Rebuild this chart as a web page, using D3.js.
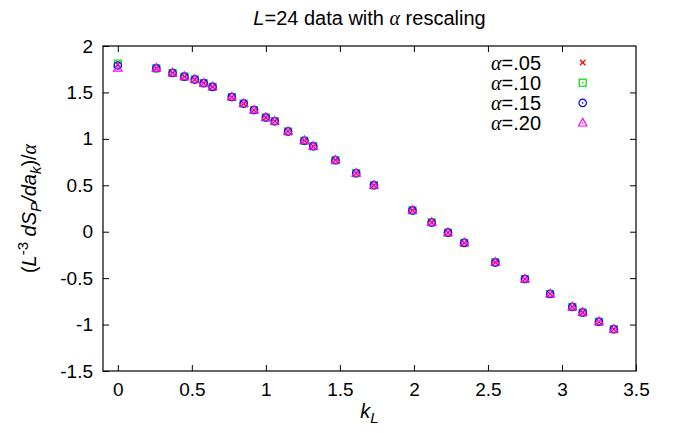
<!DOCTYPE html>
<html>
<head>
<meta charset="utf-8">
<script src="https://cdn.jsdelivr.net/npm/d3@7"></script>
<style>
  body { margin: 0; background: #fff; }
  text { font-family: "Liberation Sans", Arial, sans-serif; }
</style>
</head>
<body>
<div id="chart"></div>
<script>

// k_L values (shared by all four alpha sets)
var kL = [0, 0.26, 0.37, 0.45, 0.52, 0.58, 0.64, 0.77, 0.85, 0.92, 1.00, 1.06, 1.15, 1.26, 1.32,
          1.47, 1.61, 1.73, 1.99, 2.12, 2.23, 2.34, 2.55, 2.75, 2.92, 3.07, 3.14, 3.25, 3.35]

var alpha05 = [1.80, 1.76, 1.71, 1.67, 1.64, 1.60, 1.56, 1.45, 1.38, 1.31, 1.23, 1.19, 1.08, 0.98, 0.92,
               0.77, 0.63, 0.50, 0.23, 0.10, -0.01, -0.12, -0.33, -0.51, -0.67, -0.81, -0.87, -0.97, -1.05]
var alpha10 = [1.81, 1.76, 1.71, 1.67, 1.64, 1.60, 1.56, 1.45, 1.38, 1.31, 1.23, 1.19, 1.08, 0.98, 0.92,
               0.77, 0.63, 0.50, 0.23, 0.10, -0.01, -0.12, -0.33, -0.51, -0.67, -0.81, -0.87, -0.97, -1.05]
var alpha15 = [1.79, 1.76, 1.71, 1.67, 1.64, 1.60, 1.56, 1.45, 1.38, 1.31, 1.23, 1.19, 1.08, 0.98, 0.92,
               0.77, 0.63, 0.50, 0.23, 0.10, -0.01, -0.12, -0.33, -0.51, -0.67, -0.81, -0.87, -0.97, -1.05]
var alpha20 = [1.76, 1.76, 1.71, 1.67, 1.64, 1.60, 1.56, 1.45, 1.38, 1.31, 1.23, 1.19, 1.08, 0.98, 0.92,
               0.77, 0.63, 0.50, 0.23, 0.10, -0.01, -0.12, -0.33, -0.51, -0.67, -0.81, -0.87, -0.97, -1.05]

var seriesNames = [".05", ".10", ".15", ".20"]
var xTicks = [0, 0.5, 1, 1.5, 2, 2.5, 3, 3.5]
var yTicks = [-1.5, -1, -0.5, 0, 0.5, 1, 1.5, 2]

// set the dimensions and margins of the graph
var width = 673,
    height = 433,
    margin = {top: 46, right: 37, bottom: 62, left: 103}

var svg = d3.select("#chart")
  .append("svg")
    .attr("width", width)
    .attr("height", height)

var x = d3.scaleLinear().domain([-0.1, 3.5]).range([margin.left, width - margin.right])
var y = d3.scaleLinear().domain([-1.5, 2]).range([height - margin.bottom, margin.top])

var fontSize = 19
var plain = function(d) { return String(d) }   // keep the ascii hyphen

// axes with inward ticks, mirrored on top and right
var tl = 6
svg.append("g")
  .attr("transform", "translate(0," + y.range()[0] + ")")
  .call(d3.axisBottom(x).tickValues(xTicks).tickSize(-tl).tickFormat(plain).tickPadding(12))
svg.append("g")
  .attr("transform", "translate(0," + y.range()[1] + ")")
  .call(d3.axisTop(x).tickValues(xTicks.slice(0, -1)).tickSize(-tl).tickFormat(""))
svg.append("g")
  .attr("transform", "translate(" + x.range()[0] + ",0)")
  .call(d3.axisLeft(y).tickValues(yTicks).tickSize(-tl).tickFormat(plain).tickPadding(10))
svg.append("g")
  .attr("transform", "translate(" + x.range()[1] + ",0)")
  .call(d3.axisRight(y).tickValues(yTicks.slice(1, -1)).tickSize(-tl).tickFormat(""))

svg.selectAll(".domain").remove()
svg.selectAll(".tick line").attr("stroke", "#000")
svg.selectAll(".tick text")
  .attr("fill", "#000")
  .style("font-size", fontSize + "px")
  .style("font-family", "Liberation Sans, Arial, sans-serif")

// frame
svg.append("rect")
  .attr("x", x.range()[0])
  .attr("y", y.range()[1])
  .attr("width", x.range()[1] - x.range()[0])
  .attr("height", y.range()[0] - y.range()[1])
  .attr("fill", "none")
  .attr("stroke", "#000")
  .attr("stroke-width", 1.2)

// marker shapes (gnuplot point types)
function marker(g, type, color) {
  if (type == 0) {
    g.append("path").attr("d", "M-2.7,-2.7L2.7,2.7M-2.7,2.7L2.7,-2.7")
      .attr("stroke", color).attr("stroke-width", 1.3).attr("fill", "none")
  } else if (type == 1) {
    g.append("rect").attr("x", -3.5).attr("y", -3.5).attr("width", 7).attr("height", 7)
      .attr("stroke", color).attr("stroke-width", 1.2).attr("fill", "none")
    g.append("rect").attr("x", -0.7).attr("y", -0.7).attr("width", 1.4).attr("height", 1.4).attr("fill", color)
  } else if (type == 2) {
    g.append("circle").attr("r", 3.7)
      .attr("stroke", color).attr("stroke-width", 1.2).attr("fill", "none")
    g.append("rect").attr("x", -0.7).attr("y", -0.7).attr("width", 1.4).attr("height", 1.4).attr("fill", color)
  } else {
    g.append("path").attr("d", "M0,-4.7L4.2,2.9L-4.2,2.9Z")
      .attr("stroke", color).attr("stroke-width", 1.2).attr("fill", "none")
    g.append("rect").attr("x", -0.7).attr("y", -0.7).attr("width", 1.4).attr("height", 1.4).attr("fill", color)
  }
}

var allSeries = [alpha05, alpha10, alpha15, alpha20]
var colors = ["#ff0000", "#00dd00", "#0000ff", "#ff00ff"]

allSeries.forEach(function(vals, s) {
  svg.append("g").selectAll("g")
    .data(vals.map(function(v, i) { return {k: kL[i], v: v} }))
    .enter()
    .append("g")
      .attr("transform", function(d) { return "translate(" + x(d.k) + "," + y(d.v) + ")" })
      .each(function() { marker(d3.select(this), s, colors[s]) })
})

// legend
var legend = svg.append("g")
seriesNames.forEach(function(name, i) {
  var ly = 62.5 + i * 20.2
  var t = legend.append("text")
    .attr("x", 541)
    .attr("y", ly + 7)
    .attr("text-anchor", "end")
    .style("font-size", "20px")
  t.append("tspan").text("α").style("font-family", "Liberation Serif, serif").style("font-style", "italic")
  t.append("tspan").text("=" + name)
  var g = legend.append("g").attr("transform", "translate(582.7," + ly + ")")
  marker(g, i, colors[i])
})

// title
var title = svg.append("text")
  .attr("x", (x.range()[0] + x.range()[1]) / 2)
  .attr("y", 25)
  .attr("text-anchor", "middle")
  .style("font-size", "20px")
title.append("tspan").text("L").style("font-style", "italic")
title.append("tspan").text("=24 data with ")
title.append("tspan").text("α").style("font-family", "Liberation Serif, serif").style("font-style", "italic")
title.append("tspan").text(" rescaling")

// x label
var xl = svg.append("text")
  .attr("x", (x.range()[0] + x.range()[1]) / 2)
  .attr("y", 418)
  .attr("text-anchor", "middle")
  .style("font-size", "20px")
  .style("font-style", "italic")
xl.append("tspan").text("k")
xl.append("tspan").text("L").attr("dy", 5).style("font-size", "15px")

// y label
var yl = svg.append("text")
  .attr("transform", "translate(36," + (y.range()[0] + y.range()[1]) / 2 + ") rotate(-90)")
  .attr("text-anchor", "middle")
  .style("font-size", "20px")
yl.append("tspan").text("(")
yl.append("tspan").text("L").style("font-style", "italic")
yl.append("tspan").text("-3").attr("dy", -8).style("font-size", "15px")
yl.append("tspan").text(" dS").attr("dy", 8).style("font-style", "italic")
yl.append("tspan").text("P").attr("dy", 5).style("font-size", "15px").style("font-style", "italic")
yl.append("tspan").text("/da").attr("dy", -5).style("font-style", "italic")
yl.append("tspan").text("k").attr("dy", 5).style("font-size", "15px").style("font-style", "italic")
yl.append("tspan").text(")/").attr("dy", -5)
yl.append("tspan").text("α").style("font-family", "Liberation Serif, serif").style("font-style", "italic")

</script>
</body>
</html>
